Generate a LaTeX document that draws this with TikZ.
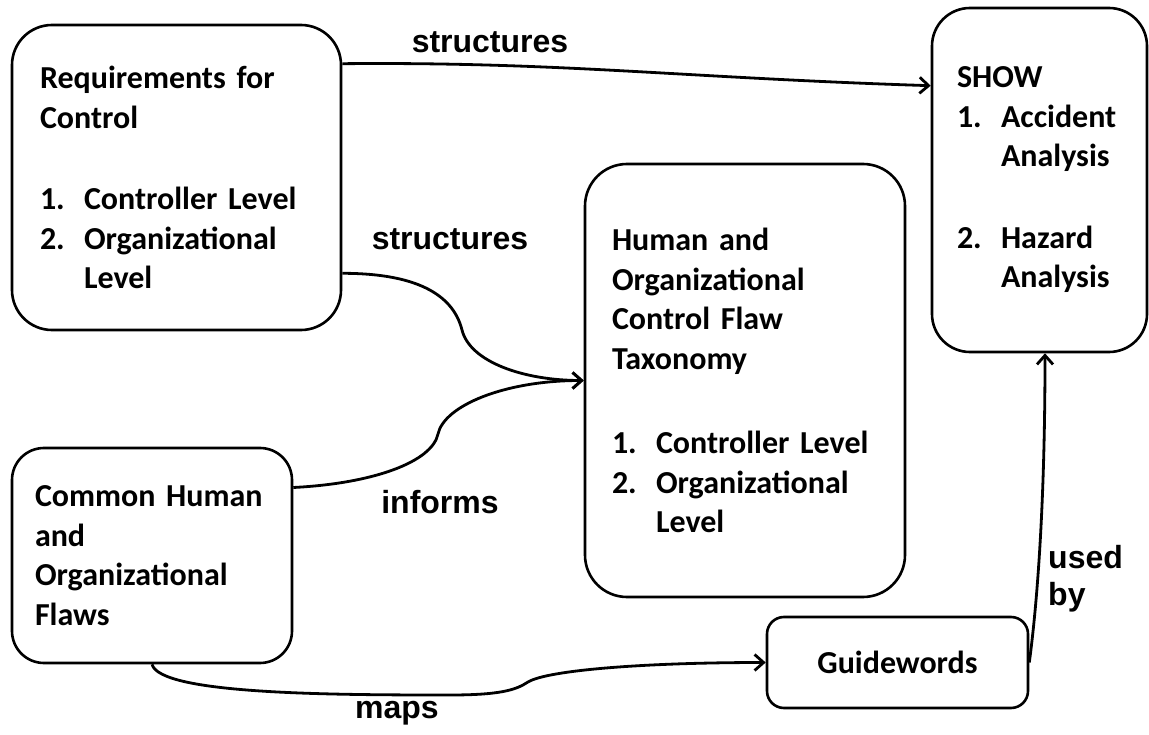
\documentclass[tikz,border=0pt]{standalone}
\usepackage{fontspec}
\setmainfont{Carlito}
\newfontfamily\lblfont{Liberation Sans}
\usetikzlibrary{arrows.meta}
\newcommand{\itm}[1]{\makebox[44pt][l]{#1}}
\begin{document}
\begin{tikzpicture}[x=1pt,y=-1pt,
  box/.style={draw, line width=2.6pt, inner sep=0pt, font=\bfseries\fontsize{32}{39.5}\selectfont, align=left},
  conn/.style={line width=2.8pt, -{Straight Barb[length=9pt,width=16pt,line width=2.8pt]}},
  lbl/.style={font=\lblfont\bfseries\fontsize{32}{37}\selectfont, anchor=base, inner sep=0pt},
]
\useasboundingbox (0,0) rectangle (1149,735);

\node[box, rounded corners=40pt, minimum width=329pt, minimum height=305pt, text width=273pt] (req) at (176.5,177.5)
 {\mbox{Requirements for}\\ \mbox{Control}\\[42pt]
  \mbox{\itm{1.}Controller Level}\\ \mbox{\itm{2.}Organizational}\\ \mbox{\hspace*{44pt}Level}};

\node[box, rounded corners=38pt, minimum width=215pt, minimum height=344pt, text width=165pt] (show) at (1039.5,180)
 {\mbox{SHOW}\\ \mbox{\itm{1.}Accident}\\ \mbox{\hspace*{44pt}Analysis}\\[42pt]
  \mbox{\itm{2.}Hazard}\\ \mbox{\hspace*{44pt}Analysis}};

\node[box, rounded corners=42pt, minimum width=320pt, minimum height=433pt, text width=266pt] (hum) at (745,380.5)
 {\mbox{Human and}\\ \mbox{Organizational}\\ \mbox{Control Flaw}\\ \mbox{Taxonomy}\\[45pt]
  \mbox{\itm{1.}Controller Level}\\ \mbox{\itm{2.}Organizational}\\ \mbox{\hspace*{44pt}Level}};

\node[box, rounded corners=32pt, minimum width=280pt, minimum height=215pt, text width=234pt] (com) at (152,555.5)
 {\mbox{Common Human}\\ \mbox{and}\\ \mbox{Organizational}\\ \mbox{Flaws}};

\node[box, rounded corners=17pt, minimum width=261pt, minimum height=91pt, align=center] (gw) at (897.5,662.5) {Guidewords};

% connectors
\coordinate (m1) at (462,330);
\coordinate (m2) at (438,434);
\coordinate (m3) at (450,695);
\coordinate (m4) at (528,682);

\draw[conn] ([yshift=-40pt]req.north east) .. controls +(220,-2) and +(-250,-8) .. ([yshift=-79pt]show.north west);
\draw[conn] ([yshift=58pt]req.south east) .. controls +(80,0) and +(-8,-32) .. (m1) .. controls +(8,32) and +(-60,0) .. (hum.west);
\draw[conn] ([yshift=68pt]com.east) .. controls +(80,-4) and +(-6,28) .. (m2) .. controls +(6,-28) and +(-80,0) .. (hum.west);
\draw[conn] (com.south) .. controls +(8,30) and +(-120,0) .. (m3) .. controls +(50,0) and +(-12,8) .. (m4) .. controls +(20,-12) and +(-120,0) .. (gw.west);
\draw[conn] (gw.east) .. controls +(8,-60) and +(0,150) .. ([xshift=5.5pt]show.south);

% labels
\node[lbl] (l1) at (490,53) {structures};
\node[lbl] (l2) at (450,250) {structures};
\node[lbl] (l3) at (440,513) {informs};
\node[lbl] (l4) at (397,718) {maps};
\node[lbl, anchor=base west] (l5a) at (1048,568) {used};
\node[lbl, anchor=base west] (l5b) at (1048,605) {by};
\end{tikzpicture}
\end{document}
